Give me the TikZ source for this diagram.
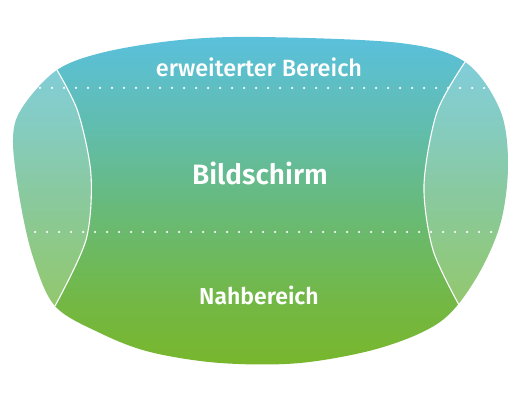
\documentclass[tikz,border=0pt]{standalone}
\usepackage{fontspec}
\setmainfont{Fira Sans}[BoldFont={Fira Sans SemiBold}]
\newfontfamily\medfont{Fira Sans Medium}
\definecolor{cA}{HTML}{78B62C}
\definecolor{cB}{HTML}{73B845}
\definecolor{cC}{HTML}{6DB95E}
\definecolor{cD}{HTML}{67BA7E}
\definecolor{cE}{HTML}{61BDAE}
\definecolor{cF}{HTML}{5AC0DC}
\pgfdeclareverticalshading{lensshade}{100bp}{color(0bp)=(cA); color(25bp)=(cA); color(34.7bp)=(cB); color(41.6bp)=(cC); color(50bp)=(cD); color(61.3bp)=(cE); color(75bp)=(cF); color(100bp)=(cF)}
\tikzset{
  divider/.style={draw=white, line width=1.1pt},
  sidefill/.style={fill=white, fill opacity=0.23},
  dotline/.style={draw=white, draw opacity=0.95, line width=2.5pt, line cap=round, dash pattern=on 0pt off 12pt},
  lbl/.style={text=white, anchor=base, inner sep=0pt},
}
\begin{document}
\begin{tikzpicture}[x=1pt,y=-1pt]
\useasboundingbox (0,0) rectangle (520,401);
\def\lens{plot[smooth cycle, tension=0.55] coordinates {(260,37) (400,43) (465,62) (500,110) (508,165) (500,225) (475,280) (440,322) (380,348) (300,363) (220,363) (150,352) (100,333) (55,306) (33,257) (20,200) (13,140) (22,108) (57,70) (105,52) (180,40)}}
\shade[shading=lensshade] \lens;
\begin{scope}
  \clip \lens;
  \fill[sidefill] (0,0) -- plot[smooth] coordinates {(57,70) (78,112) (91,175) (86,240) (55,306)} -- (0,401) -- cycle;
  \fill[sidefill] (520,0) -- plot[smooth] coordinates {(465,62) (437,112) (424,185) (433,250) (459,305)} -- (520,401) -- cycle;
  \coordinate (d1a) at (4,88);
  \coordinate (d1b) at (520,88);
  \coordinate (d2a) at (-1,232);
  \coordinate (d2b) at (520,232);
  \draw[dotline] (d1a) -- (d1b);
  \draw[dotline] (d2a) -- (d2b);
\end{scope}
\draw[divider] plot[smooth] coordinates {(57,70) (78,112) (91,175) (86,240) (55,306)};
\draw[divider] plot[smooth] coordinates {(465,62) (437,112) (424,185) (433,250) (459,305)};
\node[lbl, font=\medfont\fontsize{23.5}{27}\selectfont] (t1) at (259,77) {erweiterter Bereich};
\node[lbl, font=\bfseries\fontsize{28}{32}\selectfont] (t2) at (260,185) {Bildschirm};
\node[lbl, font=\bfseries\fontsize{23}{27}\selectfont] (t3) at (259,304) {Nahbereich};
\end{tikzpicture}
\end{document}
